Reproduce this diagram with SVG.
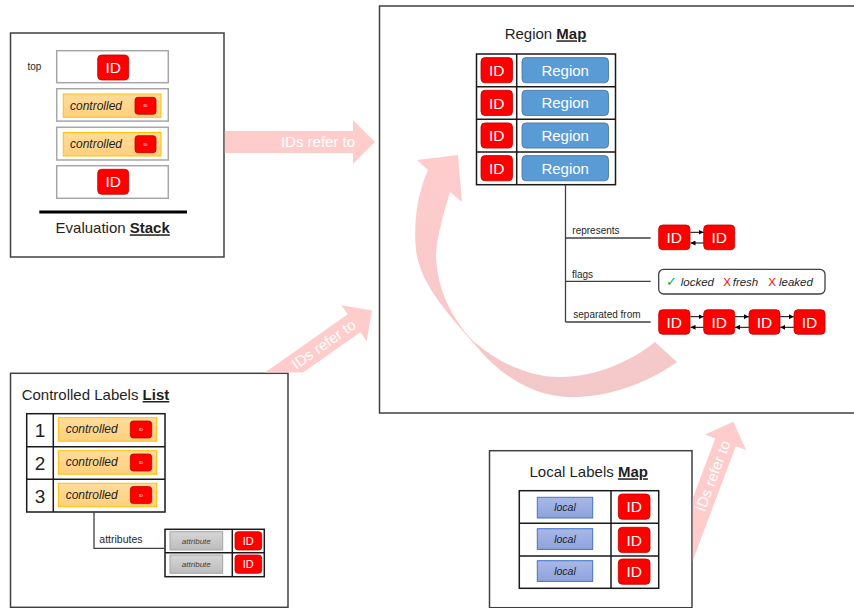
<svg xmlns="http://www.w3.org/2000/svg" width="854" height="608" viewBox="0 0 854 608">
  <defs>
    <style>
      text { font-family: "Liberation Sans", Arial, sans-serif; fill: #1f1f1f; }
      .frame { fill: #ffffff; stroke: #404040; stroke-width: 1.5; }
      .cell { fill: #ffffff; stroke: #a6a6a6; stroke-width: 1.5; }
      .grid { fill: none; stroke: #1a1a1a; stroke-width: 1.5; }
      .title { font-size: 15px; }
      .title tspan.key { font-weight: bold; text-decoration: underline; }
      .id { fill: #ff0000; stroke: #c00000; stroke-width: 0.8; }
      .idtxt { fill: #ffffff; font-size: 15.5px; text-anchor: middle; }
      .region { fill: #5b9bd5; stroke: #41719c; stroke-width: 0.8; }
      .regtxt { fill: #ffffff; font-size: 15px; text-anchor: middle; }
      .ctl { fill: url(#ctlFill); stroke: #ffc000; stroke-width: 1; }
      .ctltxt { font-size: 12px; font-style: italic; }
      .tiny { fill: #ffffff; font-size: 4px; text-anchor: middle; }
      .local { fill: url(#localFill); stroke: #4472c4; stroke-width: 1; }
      .localtxt { font-size: 10.5px; font-style: italic; text-anchor: middle; }
      .attr { fill: url(#attrFill); stroke: #a5a5a5; stroke-width: 1; }
      .attrtxt { font-size: 8px; font-style: italic; text-anchor: middle; fill: #404040; }
      .label { font-size: 10px; }
      .wire { fill: none; stroke: #404040; stroke-width: 1.3; }
      .link { stroke: #000000; stroke-width: 1; marker-end: url(#tip); }
      .pink { fill: #ffcccc; }
      .pinktxt { fill: #ffffff; font-size: 15px; text-anchor: middle; }
      .flag { font-size: 11.5px; font-style: italic; }
      .cross { font-size: 11.5px; fill: #ff0000; }
    </style>
    <linearGradient id="ctlFill" x1="0" y1="0" x2="0" y2="1">
      <stop offset="0" stop-color="#ffdc9c"/>
      <stop offset="1" stop-color="#ffd07c"/>
    </linearGradient>
    <linearGradient id="localFill" x1="0" y1="0" x2="0" y2="1">
      <stop offset="0" stop-color="#a8b8e8"/>
      <stop offset="1" stop-color="#8ea3dc"/>
    </linearGradient>
    <linearGradient id="attrFill" x1="0" y1="0" x2="0" y2="1">
      <stop offset="0" stop-color="#d6d6d6"/>
      <stop offset="1" stop-color="#bcbcbc"/>
    </linearGradient>
    <linearGradient id="curveFill" x1="0" y1="0" x2="0" y2="1">
      <stop offset="0" stop-color="#ffcccc"/>
      <stop offset="1" stop-color="#f3c8c8"/>
    </linearGradient>
    <marker id="tip" markerUnits="userSpaceOnUse" markerWidth="5" markerHeight="5" refX="5" refY="2.5" orient="auto">
      <path d="M0,0 L5,2.5 L0,5 z" fill="#000000"/>
    </marker>
    <polygon id="fatArrow" points="0,0 -22,-22 -22,-11 -160,-11 -160,11 -22,11 -22,22"/>
    <!-- keep the broad arrows outside the boxes they leave from -->
    <clipPath id="outsideStack"><rect x="224.8" y="0" width="629" height="608"/></clipPath>
    <clipPath id="outsideList"><rect x="0" y="0" width="854" height="372.5"/></clipPath>
    <clipPath id="outsideLocal"><rect x="692.8" y="0" width="161" height="608"/></clipPath>
  </defs>

  <rect width="854" height="608" fill="#ffffff"/>

  <!-- Region map: frame, title and table -->
  <g id="region-map">
    <rect class="frame" x="379.5" y="6" width="480" height="407"/>
    <text class="title" x="545.5" y="39.3" text-anchor="middle">Region <tspan class="key">Map</tspan></text>
    <rect class="grid" x="476.5" y="54" width="139" height="130.7"/>
    <path class="grid" d="M476.5,86.7 H615.5 M476.5,119.3 H615.5 M476.5,152 H615.5 M516.7,54 V184.7"/>
    <g id="region-row-1">
      <rect class="id" x="481" y="57.6" width="31.5" height="25.2" rx="4"/>
      <text class="idtxt" x="496.8" y="75.8">ID</text>
      <rect class="region" x="522" y="57.6" width="86.5" height="25.2" rx="4"/>
      <text class="regtxt" x="565.2" y="75.6">Region</text>
    </g>
    <g id="region-row-2">
      <rect class="id" x="481" y="90.3" width="31.5" height="25.2" rx="4"/>
      <text class="idtxt" x="496.8" y="108.5">ID</text>
      <rect class="region" x="522" y="90.3" width="86.5" height="25.2" rx="4"/>
      <text class="regtxt" x="565.2" y="108.3">Region</text>
    </g>
    <g id="region-row-3">
      <rect class="id" x="481" y="122.9" width="31.5" height="25.2" rx="4"/>
      <text class="idtxt" x="496.8" y="141.1">ID</text>
      <rect class="region" x="522" y="122.9" width="86.5" height="25.2" rx="4"/>
      <text class="regtxt" x="565.2" y="140.9">Region</text>
    </g>
    <g id="region-row-4">
      <rect class="id" x="481" y="155.6" width="31.5" height="25.2" rx="4"/>
      <text class="idtxt" x="496.8" y="173.8">ID</text>
      <rect class="region" x="522" y="155.6" width="86.5" height="25.2" rx="4"/>
      <text class="regtxt" x="565.2" y="173.6">Region</text>
    </g>
  </g>

  <!-- Evaluation stack -->
  <g id="evaluation-stack">
    <rect class="frame" x="10.5" y="33" width="213.5" height="224"/>
    <text x="27.5" y="70" style="font-size:10px">top</text>
    <rect class="cell" x="56.7" y="50.7" width="111.6" height="32"/>
    <rect class="id" x="97.7" y="55" width="31" height="25" rx="4"/>
    <text class="idtxt" x="113.2" y="73">ID</text>
    <rect class="cell" x="56.7" y="88.7" width="111.6" height="32.4"/>
    <rect class="ctl" x="63.3" y="94" width="97.7" height="23.3"/>
    <text class="ctltxt" x="70" y="109.5">controlled</text>
    <rect class="id" x="135" y="97.3" width="21" height="17" rx="3"/>
    <text class="tiny" x="145.5" y="107.3">ID</text>
    <rect class="cell" x="56.7" y="127.3" width="111.6" height="32.7"/>
    <rect class="ctl" x="63.3" y="132.5" width="97.7" height="23.5"/>
    <text class="ctltxt" x="70" y="147.5">controlled</text>
    <rect class="id" x="135" y="135.7" width="21" height="17" rx="3"/>
    <text class="tiny" x="145.5" y="145.7">ID</text>
    <rect class="cell" x="56.7" y="165.7" width="111.6" height="32.6"/>
    <rect class="id" x="97.7" y="169.3" width="31" height="25" rx="4"/>
    <text class="idtxt" x="113.2" y="187.3">ID</text>
    <line x1="39.3" y1="212" x2="187" y2="212" stroke="#000000" stroke-width="3"/>
    <text class="title" x="112.7" y="233.3" text-anchor="middle">Evaluation <tspan class="key">Stack</tspan></text>
  </g>

  <!-- Controlled labels list -->
  <g id="controlled-labels-list">
    <rect class="frame" x="10.5" y="373.3" width="277.5" height="234"/>
    <text class="title" x="21.7" y="400">Controlled Labels <tspan class="key">List</tspan></text>
    <rect class="grid" x="26.7" y="413.7" width="138.3" height="98.3"/>
    <path class="grid" d="M26.7,446.7 H165 M26.7,479.3 H165 M53.3,413.7 V512"/>
    <text x="40" y="437" text-anchor="middle" style="font-size:19px">1</text>
    <text x="40" y="469.8" text-anchor="middle" style="font-size:19px">2</text>
    <text x="40" y="502.5" text-anchor="middle" style="font-size:19px">3</text>
    <rect class="ctl" x="58.3" y="417.7" width="98.4" height="23.5"/>
    <text class="ctltxt" x="65.7" y="433.4">controlled</text>
    <rect class="id" x="130.3" y="421" width="21.4" height="17" rx="3"/>
    <text class="tiny" x="141" y="431">ID</text>
    <rect class="ctl" x="58.3" y="450.7" width="98.4" height="23.5"/>
    <text class="ctltxt" x="65.7" y="466.4">controlled</text>
    <rect class="id" x="130.3" y="454" width="21.4" height="17" rx="3"/>
    <text class="tiny" x="141" y="464">ID</text>
    <rect class="ctl" x="58.3" y="483.3" width="98.4" height="23.5"/>
    <text class="ctltxt" x="65.7" y="499">controlled</text>
    <rect class="id" x="130.3" y="486.6" width="21.4" height="17" rx="3"/>
    <text class="tiny" x="141" y="496.6">ID</text>
  </g>

  <!-- Attribute table of a controlled label -->
  <g id="attributes-table">
    <rect class="grid" x="165" y="529.3" width="99.3" height="47.4"/>
    <path class="grid" d="M165,552.7 H264.3 M232.3,529.3 V576.7"/>
    <rect class="attr" x="170" y="531.7" width="52.7" height="18.3"/>
    <text class="attrtxt" x="196.3" y="543.7">attribute</text>
    <rect class="id" x="235" y="531.7" width="26.7" height="18.3" rx="3"/>
    <text class="idtxt" x="248.3" y="544.8" style="font-size:11px">ID</text>
    <rect class="attr" x="170" y="555" width="52.7" height="18.3"/>
    <text class="attrtxt" x="196.3" y="567">attribute</text>
    <rect class="id" x="235" y="555" width="26.7" height="18.3" rx="3"/>
    <text class="idtxt" x="248.3" y="568.1" style="font-size:11px">ID</text>
  </g>

  <!-- Local labels map -->
  <g id="local-labels-map">
    <rect class="frame" x="489.5" y="450.7" width="202.5" height="157"/>
    <text class="title" x="588.7" y="477.3" text-anchor="middle">Local Labels <tspan class="key">Map</tspan></text>
    <rect class="grid" x="519.3" y="490.7" width="139.4" height="97.6"/>
    <path class="grid" d="M519.3,523.3 H658.7 M519.3,556 H658.7 M611,490.7 V588.3"/>
    <rect class="local" x="537.3" y="497.3" width="55.4" height="20.7"/>
    <text class="localtxt" x="565" y="511.3">local</text>
    <rect class="id" x="618.3" y="494" width="31.7" height="25.3" rx="4"/>
    <text class="idtxt" x="634.2" y="512.3">ID</text>
    <rect class="local" x="537.3" y="528.7" width="55.4" height="20.7"/>
    <text class="localtxt" x="565" y="542.7">local</text>
    <rect class="id" x="618.3" y="527.3" width="31.7" height="25.3" rx="4"/>
    <text class="idtxt" x="634.2" y="545.6">ID</text>
    <rect class="local" x="537.3" y="560.7" width="55.4" height="20.7"/>
    <text class="localtxt" x="565" y="574.7">local</text>
    <rect class="id" x="618.3" y="559" width="31.7" height="25.3" rx="4"/>
    <text class="idtxt" x="634.2" y="577.3">ID</text>
  </g>

  <!-- Region attributes: represents, flags, separated from -->
  <g id="represents">
    <rect class="id" x="658.7" y="225" width="31.3" height="24.7" rx="4"/>
    <text class="idtxt" x="674.3" y="243">ID</text>
    <rect class="id" x="703.7" y="225" width="31" height="24.7" rx="4"/>
    <text class="idtxt" x="719.2" y="243">ID</text>
  </g>
  <g id="flags">
    <rect x="658.7" y="269.3" width="166.3" height="24.7" rx="5" fill="#ffffff" stroke="#404040" stroke-width="1.3"/>
    <text x="666" y="286" style="font-family:'DejaVu Sans',sans-serif;font-size:13px;fill:#00b050;font-weight:bold">✓</text>
    <text class="flag" x="680.7" y="285.7">locked</text>
    <text class="cross" x="723.3" y="285.7">X</text>
    <text class="flag" x="732.7" y="285.7">fresh</text>
    <text class="cross" x="768.3" y="285.7">X</text>
    <text class="flag" x="779" y="285.7">leaked</text>
  </g>
  <g id="separated-from">
    <rect class="id" x="658.7" y="309.7" width="31.3" height="24.6" rx="4"/>
    <text class="idtxt" x="674.3" y="327.6">ID</text>
    <rect class="id" x="703.7" y="309.7" width="31" height="24.6" rx="4"/>
    <text class="idtxt" x="719.2" y="327.6">ID</text>
    <rect class="id" x="749" y="309.7" width="31" height="24.6" rx="4"/>
    <text class="idtxt" x="764.5" y="327.6">ID</text>
    <rect class="id" x="794" y="309.7" width="31" height="24.6" rx="4"/>
    <text class="idtxt" x="809.5" y="327.6">ID</text>
  </g>

  <!-- Connectors: broad "refers to" arrows, the circular arrow, branch wires and links -->
  <g id="connectors">
    <g clip-path="url(#outsideStack)">
      <g transform="translate(375,142)">
        <use href="#fatArrow" class="pink"/>
        <text class="pinktxt" x="-57" y="5">IDs refer to</text>
      </g>
    </g>
    <g clip-path="url(#outsideList)">
      <g transform="translate(372,310.5) rotate(-35.2)">
        <use href="#fatArrow" class="pink"/>
        <text class="pinktxt" x="-59" y="5">IDs refer to</text>
      </g>
    </g>
    <g clip-path="url(#outsideLocal)">
      <g transform="translate(733.3,421.7) rotate(-69.4)">
        <use href="#fatArrow" class="pink"/>
        <text class="pinktxt" x="-58" y="5">IDs refer to</text>
      </g>
    </g>
    <path fill="url(#curveFill)" d="M677,362 C645,385 605,398 567,397 C533,396 500,375 477,347 C450,316 420,285 416,250 C413,222 418,192 428,170 L417,160 L458,155 L462,202 L450,192 C444,212 437,236 436,255 C437,290 452,318 472,340 C497,362 528,377 560,377 C595,377 630,362 655,342 Z"/>

    <path class="wire" d="M565.5,184.7 V322 M565.5,238 H650.7 M565.5,281.3 H650.7 M565.5,322 H650.7"/>
    <text class="label" x="572.3" y="234">represents</text>
    <text class="label" x="572" y="277.5">flags</text>
    <text class="label" x="573.3" y="317.7">separated from</text>

    <line class="link" x1="690.5" y1="232.3" x2="703.5" y2="232.3"/>
    <line class="link" x1="703.5" y1="243" x2="690.5" y2="243"/>
    <line class="link" x1="690.5" y1="316.7" x2="703.5" y2="316.7"/>
    <line class="link" x1="703.5" y1="327.3" x2="690.5" y2="327.3"/>
    <line class="link" x1="735" y1="316.7" x2="748.8" y2="316.7"/>
    <line class="link" x1="748.8" y1="327.3" x2="735" y2="327.3"/>
    <line class="link" x1="780.3" y1="316.7" x2="793.8" y2="316.7"/>
    <line class="link" x1="793.8" y1="327.3" x2="780.3" y2="327.3"/>

    <path class="wire" d="M94,512 V548.3 H165"/>
    <text class="label" x="99.3" y="543.3" style="font-size:10.5px">attributes</text>
  </g>
</svg>
